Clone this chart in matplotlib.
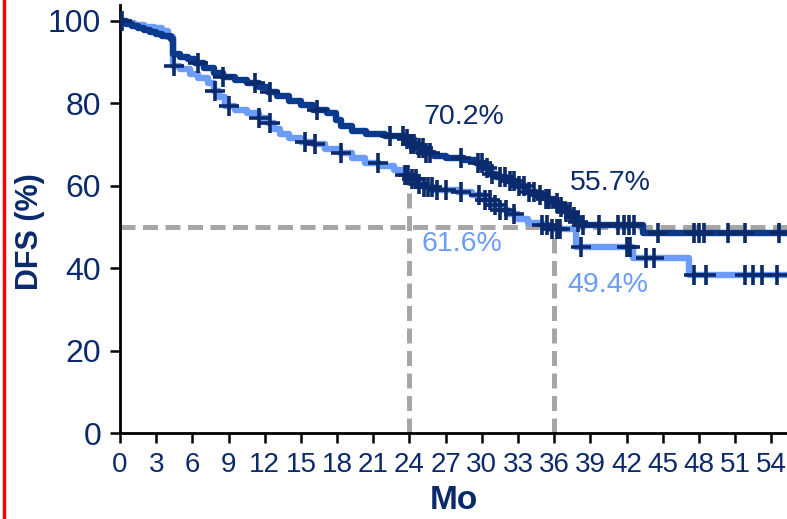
import numpy as np
import matplotlib
matplotlib.use("Agg")
import matplotlib.pyplot as plt
from matplotlib.lines import Line2D

plt.rcParams["font.family"] = ["Liberation Sans", "DejaVu Sans"]

# KM step curves (months, DFS %)
dark_t = [0, 0.5, 1, 1.5, 2, 2.5, 3, 3.5, 4.2, 4.4, 5, 5.6, 6.2, 7, 7.8, 8.5,
          9.5, 10.5, 11.5, 12.3, 13, 14, 15, 16, 17.2, 17.9, 18.3, 19.2, 20.4,
          22, 23.6, 24, 24.6, 25.2, 26, 27, 28.5, 29.5, 30.2, 30.6, 31.2, 32,
          32.8, 33.6, 34.5, 35.3, 36, 36.5, 37, 37.4, 37.8, 38.2, 43.4, 56]
dark_s = [100, 99.3, 98.8, 98.3, 97.8, 97.3, 96.8, 96.3, 95.5, 92, 91.3, 90.6,
          89.8, 88.6, 87.4, 86.3, 85.6, 85, 84, 82.8, 81.8, 80.6, 79.6, 78.4,
          77.6, 76, 74.4, 73.3, 72.5, 72.0, 71.3, 70.2, 69, 68, 67.2, 66.8,
          66.2, 65.5, 64.2, 62.8, 62, 61, 59.8, 58.5, 57.6, 56.8, 55.7, 54.8,
          53.6, 52.4, 51.2, 50.5, 48.6, 48.6]

light_t = [0, 0.6, 1.2, 2, 2.8, 3.5, 4, 4.4, 5, 5.8, 6.5, 7.3, 7.8, 8.2, 8.7,
           9.5, 10.5, 11.5, 12.3, 12.8, 13.3, 14, 15, 16, 17, 18.2, 19.2, 20.3,
           21.5, 22.7, 23.6, 24, 24.6, 25.2, 26, 28, 29.2, 30.2, 30.8, 31.5,
           32.2, 33, 33.8, 35, 35.6, 37.8, 42.5, 47.2, 56]
light_s = [100, 99.5, 99, 98.5, 98.2, 97.5, 96, 89, 88.2, 87, 86.2, 85, 83,
           81.5, 79.2, 78.3, 77.6, 76.5, 75.2, 73.8, 72.6, 71.6, 70.6, 70, 68.8,
           67.8, 66.8, 65.6, 64.8, 63.8, 62.6, 61.6, 60.5, 59.6, 59, 58.5, 57.8,
           56.6, 55.3, 54.2, 53, 51.8, 51, 50.4, 49.4, 45, 42.5, 38.2, 38.2]

# censored observations (months)
dark_cens = [0.2, 6.5, 8.5, 11.2, 12.4, 16.3, 22.4, 23.5, 23.8, 24.1, 24.4,
             24.8, 25.1, 25.4, 25.7, 28.3, 29.7, 30.0, 30.4, 30.8, 31.5, 31.9,
             32.3, 32.7, 33.1, 33.5, 33.9, 34.3, 34.8, 35.3, 35.6, 36.2, 36.6,
             37.0, 37.3, 37.6, 38.0, 38.4, 39.7, 41.3, 41.8, 42.2, 42.6, 44.6,
             47.6, 48.0, 48.4, 50.4, 51.8, 54.6]
light_cens = [4.5, 7.9, 9.0, 11.5, 12.4, 15.3, 16.2, 18.3, 21.4, 23.6, 23.9,
              24.2, 24.5, 24.8, 25.2, 25.5, 25.9, 26.3, 27.0, 28.3, 29.8, 30.3,
              30.7, 31.1, 31.5, 32.0, 32.7, 35.0, 35.4, 35.8, 36.2, 36.5, 38.2,
              42.0, 42.3, 43.6, 44.3, 47.6, 48.6, 51.8, 52.5, 53.2, 54.5]

landmarks = [24, 36]
dark_marks = [70.2, 55.7]
light_marks = [61.6, 49.4]

NAVY = "#0B2A6B"
DARK = "#0A3A8E"
LIGHT = "#6B9CF7"
GREY = "#A6A6A6"


def step_value(t, s, x):
    t = np.asarray(t)
    s = np.asarray(s)
    return s[np.searchsorted(t, x, side="right") - 1]


fig = plt.figure(figsize=(7.87, 5.19), dpi=100)
ax = fig.add_axes([0.1525, 0.1657, 0.8475, 0.8247])

# reference lines at 50% and landmark months
ax.axhline(50, color=GREY, lw=3.6, dashes=(3.0, 1.5), zorder=1)
for m, v in zip(landmarks, light_marks):
    ax.plot([m, m], [0, v], color=GREY, lw=3.6, dashes=(3.0, 1.5), zorder=1)

ax.plot(light_t, light_s, drawstyle="steps-post", color=LIGHT, lw=4.6,
        solid_joinstyle="round", zorder=2)
ax.plot(dark_t, dark_s, drawstyle="steps-post", color=DARK, lw=4.6,
        solid_joinstyle="round", zorder=3)

ax.plot(light_cens, step_value(light_t, light_s, light_cens), ls="none",
        marker="+", ms=15, mew=2.6, color=NAVY, zorder=4)
ax.plot(dark_cens, step_value(dark_t, dark_s, dark_cens), ls="none",
        marker="+", ms=15, mew=2.6, color=NAVY, zorder=4)

# survival rates at landmarks
ax.text(25.2, 76.6, f"{dark_marks[0]}%", color=NAVY, fontsize=20.5, va="center")
ax.text(25.0, 45.8, f"{light_marks[0]}%", color=LIGHT, fontsize=20.5, va="center")
ax.text(37.3, 60.6, f"{dark_marks[1]}%", color=NAVY, fontsize=20.5, va="center")
ax.text(37.1, 35.9, f"{light_marks[1]}%", color=LIGHT, fontsize=20.5, va="center")

ax.set_xlim(0, 55.3)
ax.set_ylim(0, 103.8)
ax.set_xticks(np.arange(0, 55, 3))
ax.set_yticks(np.arange(0, 101, 20))
ax.spines["top"].set_visible(False)
ax.spines["right"].set_visible(False)
for sp in ("left", "bottom"):
    ax.spines[sp].set_linewidth(2)
ax.tick_params(axis="both", length=7.5, width=1.8, color="black")
ax.tick_params(axis="x", labelsize=20, labelcolor=NAVY, pad=6)
ax.tick_params(axis="y", labelsize=23, labelcolor=NAVY, pad=6)

ax.set_xlabel("Mo", fontsize=24, fontweight="bold", color=NAVY, labelpad=5)
ax.set_ylabel("DFS (%)", fontsize=22, fontweight="bold", color=NAVY)
ax.yaxis.set_label_coords(-0.113, 0.47)

# red rule along the left edge
fig.add_artist(Line2D([0.0045, 0.0045], [0, 1], color="red", lw=2.5,
                      transform=fig.transFigure))

fig.savefig("out.png", dpi=100)
